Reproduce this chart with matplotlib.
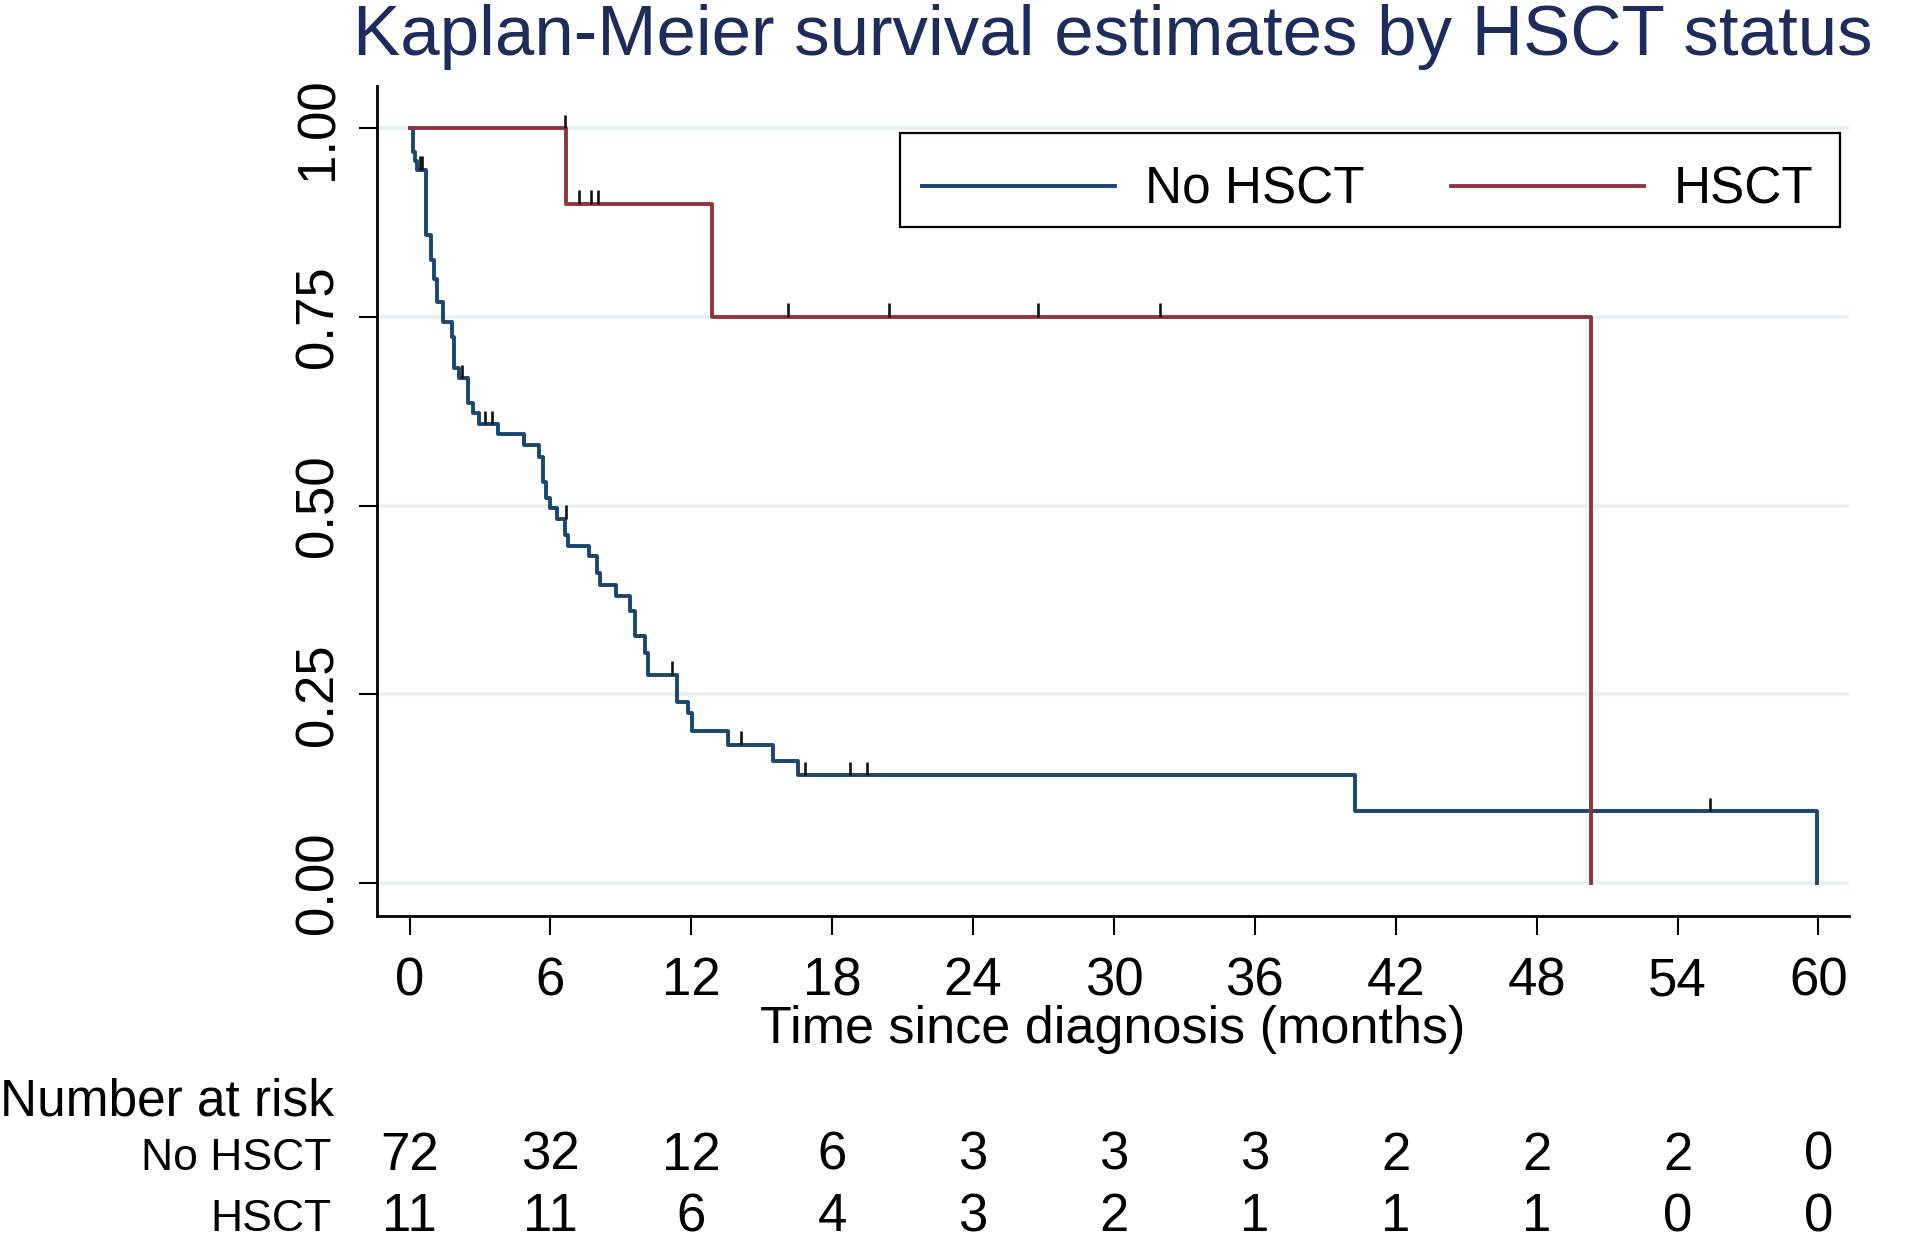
import matplotlib
matplotlib.use("Agg")
import matplotlib.pyplot as plt
from matplotlib.transforms import blended_transform_factory
from matplotlib.lines import Line2D
from matplotlib.patches import Rectangle

plt.rcParams['font.family'] = ['Liberation Sans', 'DejaVu Sans']

# ---------------- data ----------------
groups = ["No HSCT", "HSCT"]

# No HSCT: step times and survival after each step
nohsct_times = [0, 0.13, 0.23, 0.33, 0.70, 0.90, 1.06, 1.19, 1.44, 1.82, 1.89, 2.12,
                2.51, 2.72, 2.97, 3.78, 4.88, 5.51, 5.67, 5.81, 5.99, 6.27, 6.62,
                6.76, 7.64, 8.00, 8.11, 8.78, 9.39, 9.60, 10.03, 10.17, 11.38,
                11.87, 12.02, 13.58, 15.49, 16.56, 40.28, 59.94]
nohsct_surv = [1.0, 0.969, 0.956, 0.945, 0.859, 0.826, 0.800, 0.770, 0.744, 0.724,
               0.682, 0.669, 0.636, 0.623, 0.608, 0.595, 0.580, 0.565, 0.532, 0.510,
               0.497, 0.483, 0.461, 0.446, 0.433, 0.411, 0.395, 0.380, 0.360, 0.327,
               0.305, 0.276, 0.240, 0.225, 0.201, 0.183, 0.162, 0.143, 0.0953, 0.0]
nohsct_cens_t = [0.45, 0.52, 2.25, 3.22, 3.50, 6.66, 11.16, 14.10, 16.84, 18.76, 19.47, 55.38]
nohsct_cens_s = [0.945, 0.945, 0.669, 0.608, 0.608, 0.483, 0.276, 0.183, 0.143, 0.143, 0.143, 0.0953]

# HSCT
hsct_times = [0, 6.65, 12.87, 50.31]
hsct_surv = [1.0, 0.9, 0.75, 0.0]
hsct_cens_t = [6.62, 7.22, 7.72, 8.04, 16.12, 20.42, 26.78, 31.94]
hsct_cens_s = [1.0, 0.9, 0.9, 0.9, 0.75, 0.75, 0.75, 0.75]

risk_times = [0, 6, 12, 18, 24, 30, 36, 42, 48, 54, 60]
risk_nohsct = [72, 32, 12, 6, 3, 3, 3, 2, 2, 2, 0]
risk_hsct = [11, 11, 6, 4, 3, 2, 1, 1, 1, 0, 0]

yticks = [0.0, 0.25, 0.5, 0.75, 1.0]

title = "Kaplan-Meier survival estimates by HSCT status"
xlabel = "Time since diagnosis (months)"

# ---------------- style ----------------
W, H = 1920, 1250
navy = "#1a476f"
maroon = "#90353b"
grid_c = "#e6eff1"
title_c = "#1e2c5b"

fig = plt.figure(figsize=(W / 100, H / 100), dpi=100)
fig.patch.set_facecolor("white")
ax_l, ax_r, ax_t, ax_b = 377, 1849, 86, 916
ax = fig.add_axes([ax_l / W, 1 - ax_b / H, (ax_r - ax_l) / W, (ax_b - ax_t) / H])


def axfx(px):
    return (px - ax_l) / (ax_r - ax_l)


def axfy(py):
    return (ax_b - py) / (ax_b - ax_t)


ax.set_xlim(-1.384, 61.3)
ax.set_ylim(-0.0435, 1.056)

for s in ["top", "right"]:
    ax.spines[s].set_visible(False)
for s in ["left", "bottom"]:
    ax.spines[s].set_linewidth(2.0)
    ax.spines[s].set_color("black")

ax.set_yticks(yticks)
ax.set_yticklabels([f"{v:.2f}" for v in yticks], rotation=90, va="center")
ax.set_xticks(risk_times)
ax.set_xticklabels([str(t) for t in risk_times])
ax.tick_params(axis="x", length=14, width=1.5, pad=15, labelsize=38)
ax.tick_params(axis="y", length=13, width=1.5, pad=11, labelsize=38)

ax.yaxis.grid(True, color=grid_c, linewidth=2.6)
ax.set_axisbelow(True)

lw = 2.8
ax.step(nohsct_times, nohsct_surv, where="post", color=navy, lw=lw, zorder=3)
ax.step(hsct_times, hsct_surv, where="post", color=maroon, lw=lw, zorder=4)

tick_h = 0.018
ax.vlines(nohsct_cens_t, nohsct_cens_s, [s + tick_h for s in nohsct_cens_s],
          color="#111111", lw=1.9, zorder=5)
ax.vlines(hsct_cens_t, hsct_cens_s, [s + tick_h for s in hsct_cens_s],
          color="#111111", lw=1.9, zorder=5)

# legend with manual frame
frame = Rectangle((900 / W, 1 - 227 / H), (1840 - 900) / W, (227 - 133) / H,
                  transform=fig.transFigure, facecolor="white", edgecolor="black",
                  lw=1.6, zorder=6, clip_on=False)
ax.add_patch(frame)
handles = [Line2D([], [], color=navy, lw=lw), Line2D([], [], color=maroon, lw=lw)]
leg = ax.legend(handles, groups, loc="center left",
                bbox_to_anchor=(axfx(922), axfy(190)),
                borderaxespad=0, borderpad=0, ncol=2, fontsize=37, handlelength=3.75,
                handletextpad=0.58, columnspacing=1.7, frameon=False)
leg.set_zorder(8)

# title and axis title
cx = (ax_l + ax_r) / 2 / W
fig.text(cx, 1 - 55 / H, title, ha="center", va="baseline", fontsize=51, color=title_c)
fig.text(cx, 1 - 1043 / H, xlabel, ha="center", va="baseline", fontsize=37.5, color="black")

# number at risk table
trans = blended_transform_factory(ax.transData, fig.transFigure)
fig.text(0.0, 1 - 1116 / H, "Number at risk", ha="left", va="baseline", fontsize=37)
rows = [(groups[0], risk_nohsct, 1170), (groups[1], risk_hsct, 1231)]
for name, vals, yb in rows:
    fig.text(331 / W, 1 - yb / H, name, ha="right", va="baseline", fontsize=32)
    for t, v in zip(risk_times, vals):
        ax.text(t, 1 - yb / H, str(v), transform=trans, ha="center", va="baseline",
                fontsize=38, clip_on=False)

fig.savefig("out.png", dpi=100, facecolor="white")
